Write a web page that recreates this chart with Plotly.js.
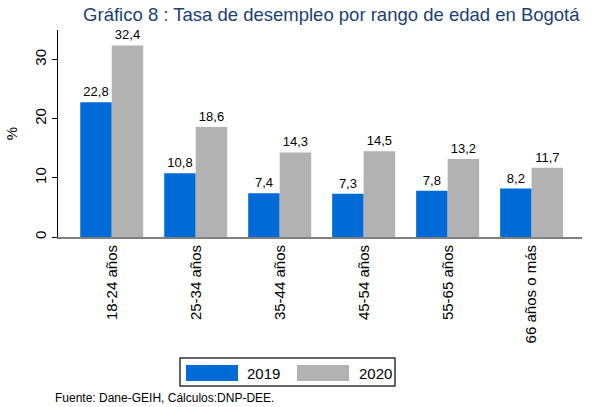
<!DOCTYPE html>
<html>
<head>
<meta charset="utf-8">
<script src="https://cdn.plot.ly/plotly-3.0.1.min.js"></script>
<style>
  body { margin: 0; background: #fff; }
  #chart { width: 597px; height: 407px; }
</style>
</head>
<body>
<div id="chart"></div>
<script>
var categories = ['18-24 años', '25-34 años', '35-44 años', '45-54 años', '55-65 años', '66 años o más'];
var values2019 = [22.8, 10.8, 7.4, 7.3, 7.8, 8.2];
var values2020 = [32.4, 18.6, 14.3, 14.5, 13.2, 11.7];
var seriesNames = ['2019', '2020'];
var yTicks = [0, 10, 20, 30];

var font = 'Liberation Sans, Arial, sans-serif';
var blue = '#006bd6';
var gray = '#b2b2b2';

var trace1 = {
  x: categories,
  y: values2019,
  name: seriesNames[0],
  type: 'bar',
  marker: {color: blue},
  texttemplate: '%{y:.1f}',
  textposition: 'outside',
  textfont: {family: font, size: 13, color: '#000'},
  cliponaxis: false
};

var trace2 = {
  x: categories,
  y: values2020,
  name: seriesNames[1],
  type: 'bar',
  marker: {color: gray},
  texttemplate: '%{y:.1f}',
  textposition: 'outside',
  textfont: {family: font, size: 13, color: '#000'},
  cliponaxis: false
};

var data = [trace1, trace2];

var layout = {
  width: 597,
  height: 407,
  margin: {l: 58, r: 15, t: 30, b: 170},
  paper_bgcolor: '#fff',
  plot_bgcolor: '#fff',
  font: {family: font, color: '#000'},
  separators: ',.',
  barmode: 'group',
  bargap: 0.25,
  bargroupgap: 0,
  showlegend: false,
  title: {
    text: 'Gráfico 8 : Tasa de desempleo por rango de edad en Bogotá',
    font: {family: font, size: 18.5, color: '#1a3f73'},
    x: 0.555, xanchor: 'center',
    y: 0.965, yanchor: 'middle'
  },
  xaxis: {
    range: [-0.64, 5.6],
    tickangle: -90,
    tickfont: {family: font, size: 15, color: '#000'},
    showline: true,
    linecolor: '#808080',
    linewidth: 2,
    ticks: '',
    showgrid: false,
    zeroline: false,
    fixedrange: true
  },
  yaxis: {
    range: [0, 35],
    tickvals: yTicks,
    tickangle: -90,
    tickfont: {family: font, size: 15, color: '#000'},
    ticks: 'outside',
    ticklen: 5,
    tickcolor: '#000',
    showline: true,
    linecolor: '#000',
    linewidth: 1.5,
    showgrid: false,
    zeroline: false,
    title: {text: '%', font: {family: font, size: 15, color: '#000'}, standoff: 10}
  },
  shapes: [
    {type: 'rect', xref: 'paper', yref: 'paper', x0: (180 - 58) / 524, x1: (395 - 58) / 524,
     y0: (407 - 170 - 386) / 207, y1: (407 - 170 - 358) / 207,
     line: {color: '#333', width: 1.5}, fillcolor: '#fff'},
    {type: 'rect', xref: 'paper', yref: 'paper', x0: (186 - 58) / 524, x1: (238 - 58) / 524,
     y0: (237 - 381) / 207, y1: (237 - 365) / 207,
     line: {width: 0}, fillcolor: blue},
    {type: 'rect', xref: 'paper', yref: 'paper', x0: (297 - 58) / 524, x1: (349 - 58) / 524,
     y0: (237 - 381) / 207, y1: (237 - 365) / 207,
     line: {width: 0}, fillcolor: gray}
  ],
  annotations: [
    {xref: 'paper', yref: 'paper', x: (245 - 58) / 524, y: (237 - 373) / 207,
     xanchor: 'left', yanchor: 'middle', showarrow: false, text: seriesNames[0],
     font: {family: font, size: 15, color: '#000'}},
    {xref: 'paper', yref: 'paper', x: (357 - 58) / 524, y: (237 - 373) / 207,
     xanchor: 'left', yanchor: 'middle', showarrow: false, text: seriesNames[1],
     font: {family: font, size: 15, color: '#000'}},
    {xref: 'paper', yref: 'paper', x: (53 - 58) / 524, y: (237 - 398) / 207,
     xanchor: 'left', yanchor: 'middle', showarrow: false,
     text: 'Fuente: Dane-GEIH, Cálculos:DNP-DEE.',
     font: {family: font, size: 12, color: '#000'}}
  ]
};

var config = {displayModeBar: false, staticPlot: true};

Plotly.newPlot('chart', data, layout, config);
</script>
</body>
</html>
